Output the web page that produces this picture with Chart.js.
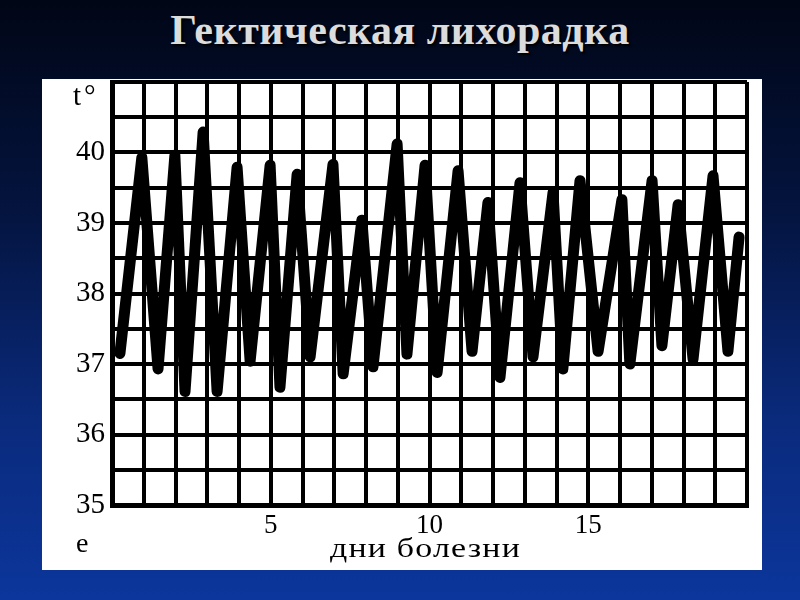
<!DOCTYPE html>
<html lang="ru">
<head>
<meta charset="utf-8">
<title>Гектическая лихорадка</title>
<script src="https://cdn.jsdelivr.net/npm/chart.js@4/dist/chart.umd.min.js"></script>
<style>
    html, body {
        margin: 0;
        padding: 0;
    }
    body {
        width: 800px;
        height: 600px;
        position: relative;
        overflow: hidden;
        background: linear-gradient(180deg, #010616 0%, #04143f 35%, #0a2a7c 70%, #0c369c 100%);
        font-family: "Liberation Serif", "Times New Roman", serif;
    }
    h1 {
        position: absolute;
        left: 0;
        top: 6px;
        width: 800px;
        margin: 0;
        text-align: center;
        font-size: 42px;
        font-weight: bold;
        letter-spacing: 0.5px;
        color: #dcdcdc;
        text-shadow: 2px 2px 2px #000;
    }
    .panel {
        position: absolute;
        left: 42px;
        top: 79px;
        width: 720px;
        height: 491px;
        background: #fff;
    }
    .panel canvas {
        position: absolute;
        left: 0;
        top: 0;
    }
    .note {
        position: absolute;
        color: #000;
        white-space: nowrap;
    }
</style>
</head>
<body>
<h1>Гектическая лихорадка</h1>
<div class="panel">
    <canvas id="feverChart" width="720" height="491"></canvas>
    <div class="note" style="left: 31px; top: 0px; font-size: 29px; letter-spacing: 3px;">t°</div>
    <div class="note" style="left: 34px; top: 448px; font-size: 28px;">e</div>
    <div class="note" style="left: 288px; top: 453px; font-size: 28px; letter-spacing: 1px; transform: scaleX(1.21); transform-origin: left top;">дни болезни</div>
</div>
<script>
// Hectic fever: morning / evening readings over 20 days of illness
const days = [0.25, 0.94, 1.45, 1.98, 2.30, 2.87, 3.31, 3.94, 4.35, 4.98,
              5.29, 5.83, 6.24, 6.96, 7.28, 7.87, 8.22, 8.98, 9.29, 9.86,
              10.24, 10.90, 11.34, 11.84, 12.22, 12.85, 13.26, 13.89, 14.20, 14.74,
              15.31, 16.06, 16.31, 17.01, 17.32, 17.83, 18.30, 18.93, 19.40, 19.75];
const temps = [37.15, 39.93, 36.93, 39.96, 36.61, 40.29, 36.61, 39.79, 37.04, 39.82,
               36.67, 39.69, 37.10, 39.83, 36.86, 39.04, 36.96, 40.12, 37.14, 39.82,
               36.88, 39.74, 37.18, 39.29, 36.81, 39.57, 37.10, 39.43, 36.93, 39.60,
               37.18, 39.33, 37.00, 39.60, 37.26, 39.26, 37.07, 39.67, 37.18, 38.80];
const xTickLabels = ['5', '10', '15'];
const yTickLabels = ['35', '36', '37', '38', '39', '40'];

const points = days.map((d, i) => ({ x: d, y: temps[i] }));

const feverCtx = document.getElementById('feverChart');
new Chart(feverCtx, {
    type: 'line',
    data: {
        datasets: [{
            data: points,
            borderColor: '#000',
            borderWidth: 11,
            borderJoinStyle: 'round',
            borderCapStyle: 'round',
            pointRadius: 0,
            tension: 0,
            fill: false
        }]
    },
    options: {
        responsive: false,
        animation: false,
        layout: {
            padding: { left: 10, top: 3, right: 15, bottom: 0 }
        },
        plugins: {
            legend: { display: false },
            tooltip: { enabled: false }
        },
        scales: {
            x: {
                type: 'linear',
                min: 0,
                max: 20,
                afterFit: function(scale) {
                    scale.height = 65;
                    scale.paddingLeft = 0;
                    scale.paddingRight = 0;
                },
                ticks: {
                    stepSize: 1,
                    autoSkip: false,
                    maxRotation: 0,
                    padding: 5,
                    color: '#000',
                    font: { family: 'Liberation Serif', size: 27 },
                    callback: function(value) {
                        return xTickLabels.includes(String(value)) ? String(value) : '';
                    }
                },
                grid: {
                    color: '#000',
                    lineWidth: 4,
                    drawTicks: false
                },
                border: { color: '#000', width: 5 }
            },
            y: {
                min: 35,
                max: 41,
                afterFit: function(scale) {
                    scale.width = 60;
                    scale.paddingTop = 0;
                    scale.paddingBottom = 0;
                },
                ticks: {
                    stepSize: 0.5,
                    autoSkip: false,
                    padding: 7,
                    color: '#000',
                    font: { family: 'Liberation Serif', size: 29 },
                    callback: function(value) {
                        return yTickLabels.includes(String(value)) ? String(value) : '';
                    }
                },
                grid: {
                    color: '#000',
                    lineWidth: 4,
                    drawTicks: false
                },
                border: { color: '#000', width: 5 }
            }
        }
    }
});
</script>
</body>
</html>
